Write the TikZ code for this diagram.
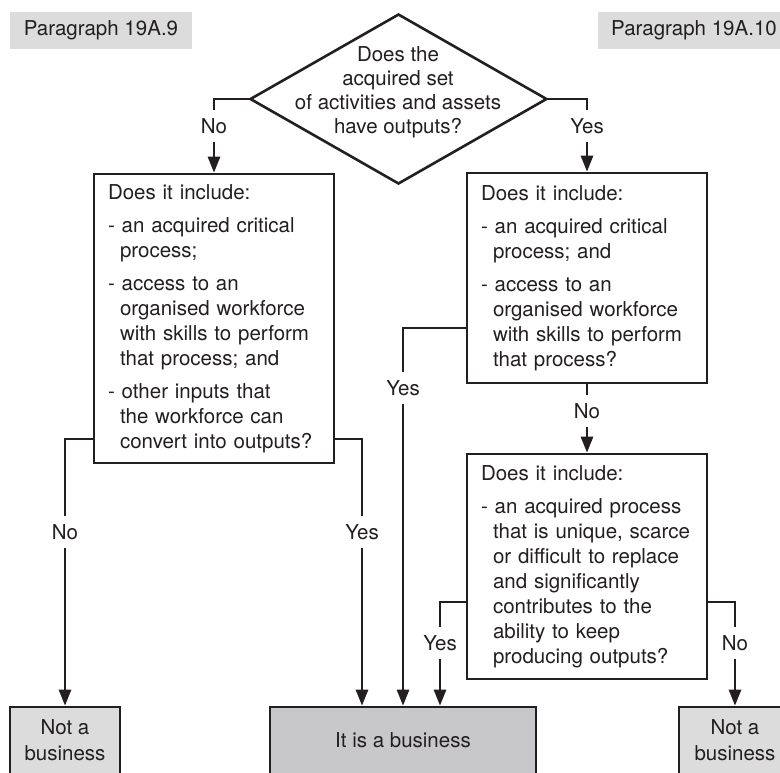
\documentclass[tikz,border=0pt]{standalone}
\usepackage{fontspec}
\setmainfont{TeX Gyre Heros}
\usetikzlibrary{arrows.meta,shapes.geometric}
\definecolor{ink}{RGB}{35,31,32}
\definecolor{paragray}{RGB}{220,220,221}
\definecolor{bizgray}{RGB}{200,200,202}
\newcommand{\hind}{\hspace*{12pt}}
\begin{document}
\begin{tikzpicture}[x=1pt,y=-1pt,
  every node/.style={font=\fontsize{20.5}{25}\selectfont, text=ink},
  qbox/.style={draw=ink, line width=2.6pt, rectangle, inner xsep=14pt, inner ysep=0pt, align=left, text width=212pt},
  para/.style={fill=paragray, inner sep=0pt, minimum height=37pt},
  endbox/.style={draw=ink, line width=2.6pt, align=center, inner sep=0pt, minimum height=67pt},
  decision/.style={diamond, draw=ink, line width=2.6pt, inner sep=0pt, minimum width=297pt, minimum height=170pt},
  lbl/.style={fill=white, inner xsep=2pt, inner ysep=8pt},
  conn/.style={draw=ink, line width=2.6pt, -{Triangle[length=16pt,width=12pt]}}]
\useasboundingbox (0,0) rectangle (780,772);
\clip (0,0) rectangle (780,772);
\fill[white] (0,0) rectangle (780,772);

\node[para, minimum width=182pt] (p1) at (101,30.5) {Paragraph 19A.9};
\node[para, minimum width=192pt] (p2) at (694,30.5) {Paragraph 19A.10};

\node[decision] (dia) at (398.5,99) {};
\node[align=center, font=\fontsize{20.5}{24}\selectfont, inner sep=0pt] (dtext) at (398,92)
  {Does the\\acquired set\\of activities and assets\\have outputs?};

\node[qbox, minimum height=289pt] (lbox) at (214,318.5) {Does it include:\\[8pt]
- an acquired critical\\
\hind process;\\[8pt]
- access to an\\
\hind organised workforce\\
\hind with skills to perform\\
\hind that process; and\\[8pt]
- other inputs that\\
\hind the workforce can\\
\hind convert into outputs?};

\node[qbox, minimum height=210pt] (rbox1) at (587,278) {Does it include:\\[8pt]
- an acquired critical\\
\hind process; and\\[8pt]
- access to an\\
\hind organised workforce\\
\hind with skills to perform\\
\hind that process?};

\node[qbox, minimum height=225pt] (rbox2) at (587,566.5) {Does it include:\\[8pt]
- an acquired process\\
\hind that is unique, scarce\\
\hind or difficult to replace\\
\hind and significantly\\
\hind contributes to the\\
\hind ability to keep\\
\hind producing outputs?};

\node[endbox, fill=paragray, minimum width=110pt, font=\fontsize{20.5}{26}\selectfont] (lnot) at (65,740.5) {Not a\\business};
\node[endbox, fill=bizgray, minimum width=266pt] (biz) at (403,740.5) {It is a business};
\node[endbox, fill=paragray, minimum width=112pt, font=\fontsize{20.5}{26}\selectfont] (rnot) at (735,740.5) {Not a\\business};

\draw[conn] (dia.west) -| (lbox.north);
\draw[conn] (dia.east) -| (rbox1.north);
\draw[conn] (lbox.west |- 0,439) -| (lnot.north);
\draw[conn] (lbox.east |- 0,439) -| (biz.north -| 362,0);
\draw[conn] (rbox1.west |- 0,328) -| (biz.north);
\draw[conn] (rbox1.south) -- (rbox2.north);
\draw[conn] (rbox2.west |- 0,602) -| (biz.north -| 440,0);
\draw[conn] (rbox2.east |- 0,602) -| (rnot.north);

\node[lbl] (n1) at (214,126) {No};
\node[lbl] (y1) at (587,126) {Yes};
\node[lbl] (n2) at (65,532) {No};
\node[lbl] (y2) at (362,532) {Yes};
\node[lbl] (y3) at (403,388) {Yes};
\node[lbl] (n3) at (587,411) {No};
\node[lbl] (y4) at (440,643) {Yes};
\node[lbl] (n4) at (735,643) {No};
\end{tikzpicture}
\end{document}
